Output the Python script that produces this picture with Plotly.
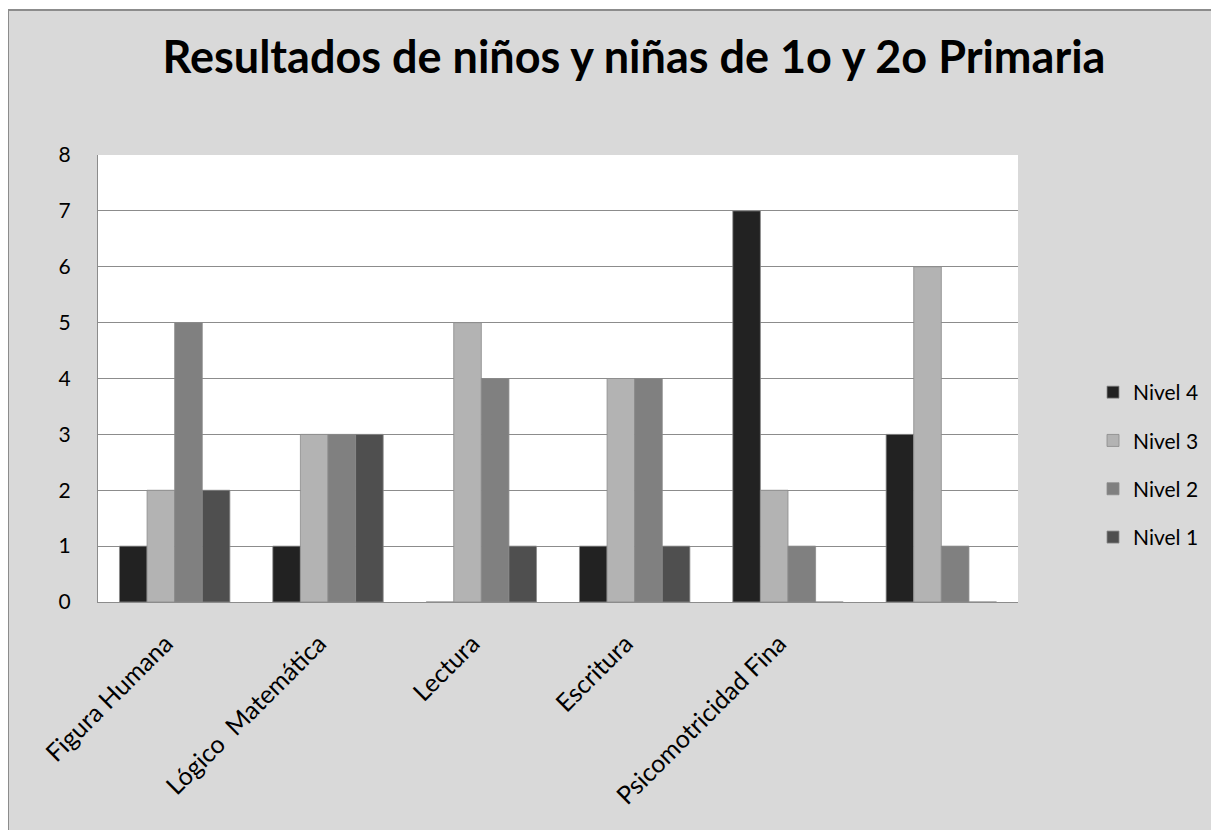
import plotly.graph_objects as go

categories = ["Figura Humana", "Lógico  Matemática", "Lectura", "Escritura", "Psicomotricidad Fina", ""]
series_names = ["Nivel 4", "Nivel 3", "Nivel 2", "Nivel 1"]
nivel4 = [1, 1, 0, 1, 7, 3]
nivel3 = [2, 3, 5, 4, 2, 6]
nivel2 = [5, 3, 4, 4, 1, 1]
nivel1 = [2, 3, 1, 1, 0, 0]
y_ticks = [0, 1, 2, 3, 4, 5, 6, 7, 8]
title_text = "Resultados de niños y niñas de 1o y 2o Primaria"

colors = ["#222222", "#b3b3b3", "#808080", "#4f4f4f"]
series_values = [nivel4, nivel3, nivel2, nivel1]

W, H = 1219, 830
OFF = 8  # page body offset
L, R, T, B = 98 - OFF, 1018 - OFF, 155 - OFF, 602 - OFF

x_idx = list(range(len(categories)))

fig = go.Figure()
for name, vals, col in zip(series_names, series_values, colors):
    fig.add_trace(go.Bar(
        x=x_idx, y=vals, name=name, legendgroup=name,
        marker=dict(color=col, line=dict(color="#8a8a8a", width=0.8)),
    ))

def px_to_paper_x(px):
    return (px - L) / (R - L)

def px_to_paper_y(py):
    return (B - py) / (B - T)

shapes = [
    dict(type="rect", xref="paper", yref="paper", layer="below",
         x0=px_to_paper_x(0), x1=px_to_paper_x(1240),
         y0=px_to_paper_y(850), y1=px_to_paper_y(2),
         fillcolor="#d9d9d9", line=dict(color="#8c8c8c", width=2)),
    dict(type="rect", xref="paper", yref="paper", layer="below",
         x0=0, x1=1, y0=0, y1=1,
         fillcolor="#ffffff", line=dict(width=0)),
]

fig.update_layout(
    width=W, height=H,
    margin=dict(l=L, r=W - R, t=T, b=H - B, pad=0),
    paper_bgcolor="#ffffff",
    plot_bgcolor="#ffffff",
    font=dict(family="Lato", size=21, color="#000000"),
    title=dict(text="<b>" + title_text + "</b>", x=(634 - OFF) / W, xanchor="center",
               y=1 - (57 - OFF) / H, yanchor="middle", yref="container",
               font=dict(family="Lato", size=45, color="#000000")),
    barmode="group",
    bargap=0.28,
    bargroupgap=0,
    showlegend=True,
    legend=dict(x=px_to_paper_x(1093 - OFF), xanchor="left",
                y=px_to_paper_y(465 - OFF), yanchor="middle",
                font=dict(size=21), tracegroupgap=18, bgcolor="rgba(0,0,0,0)",
                traceorder="grouped", itemwidth=30),
    shapes=shapes,
    xaxis=dict(
        tickmode="array", tickvals=x_idx, ticktext=categories,
        range=[-0.5, len(categories) - 0.5],
        tickangle=-45, showgrid=False, zeroline=False,
        showline=True, linecolor="#8c8c8c", linewidth=1,
        ticks="", tickfont=dict(size=25), ticklabelstandoff=16,
        ticklabelshift=-9,
    ),
    yaxis=dict(
        range=[0, 8], tickmode="array", tickvals=y_ticks,
        showgrid=True, gridcolor="#8c8c8c", gridwidth=1,
        zeroline=False, showline=True, linecolor="#8c8c8c", linewidth=1,
        ticks="", ticklabelstandoff=22, tickfont=dict(size=21),
    ),
)

fig.write_html("out.html")
